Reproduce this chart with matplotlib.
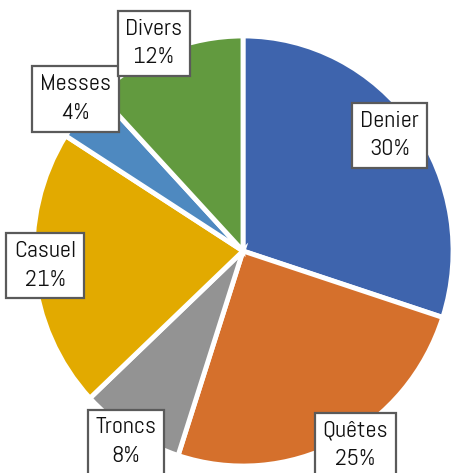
import numpy as np
import matplotlib
matplotlib.use("Agg")
import matplotlib.pyplot as plt
from matplotlib import font_manager
from matplotlib.font_manager import FontProperties
from matplotlib.textpath import TextPath

labels = ["Denier", "Quêtes", "Troncs", "Casuel", "Messes", "Divers"]
shares = [30, 25, 8, 21, 4, 12]
colors = ["#3E64AD", "#D5702C", "#939393", "#E2AA00", "#4E89C0", "#629A3F"]
explode = [0.05, 0.015, 0, 0, 0, 0]
# label box placement: distance (fraction of radius) and angle nudge (deg)
label_dist = [0.88, 1.05, 1.05, 0.945, 1.065, 1.055]
label_shift = [1.6, 3.6, 0.3, -1.2, -2.0, 2.1]

names = {f.name for f in font_manager.fontManager.ttflist}
fam = "DejaVu Sans"
for cand in ["Abel", "Pathway Gothic One", "Oswald", "Antonio", "Roboto Condensed"]:
    if cand in names:
        fam = cand
        break
fp = FontProperties(family=fam, weight="light")

# size the font so capitals are ~17 px tall, lines ~25 px apart
cap = TextPath((0, 0), "D", size=1, prop=fp).get_extents().height
asc = TextPath((0, 0), "l", size=1, prop=fp).get_extents().y1
fsize = 17 / cap * 0.72
lsp = 25 / (asc * fsize / 0.72)

W, H = 471, 473
fig = plt.figure(figsize=(W / 100, H / 100), dpi=100)
ax = fig.add_axes([0, 0, 1, 1])

# the original pie is a touch narrower than tall
sx = 210 / 215
r = 215
cx_px, cy_px = 243, H - 251
wedges, _ = ax.pie(shares, colors=colors, explode=explode, startangle=90,
                   counterclock=False, center=(cx_px / sx, cy_px), radius=r,
                   wedgeprops=dict(edgecolor="white", linewidth=3.5))
# pie() resets the limits, so set them afterwards
ax.set_xlim(0, W / sx)
ax.set_ylim(0, H)
ax.set_aspect("auto")
ax.axis("off")

for w, lab, val, d, sh in zip(wedges, labels, shares, label_dist, label_shift):
    ang = np.deg2rad((w.theta1 + w.theta2) / 2 + sh)
    x = cx_px / sx + d * r * np.cos(ang)
    y = cy_px + d * r * np.sin(ang)
    ax.text(x, y, f"{lab}\n{val}%", ha="center", va="center", fontproperties=fp,
            fontsize=fsize, linespacing=lsp, color="#111111",
            bbox=dict(boxstyle="square,pad=0.32", fc="white", ec="#5a5a5a", lw=1.6))

fig.savefig("out.png", dpi=100)
